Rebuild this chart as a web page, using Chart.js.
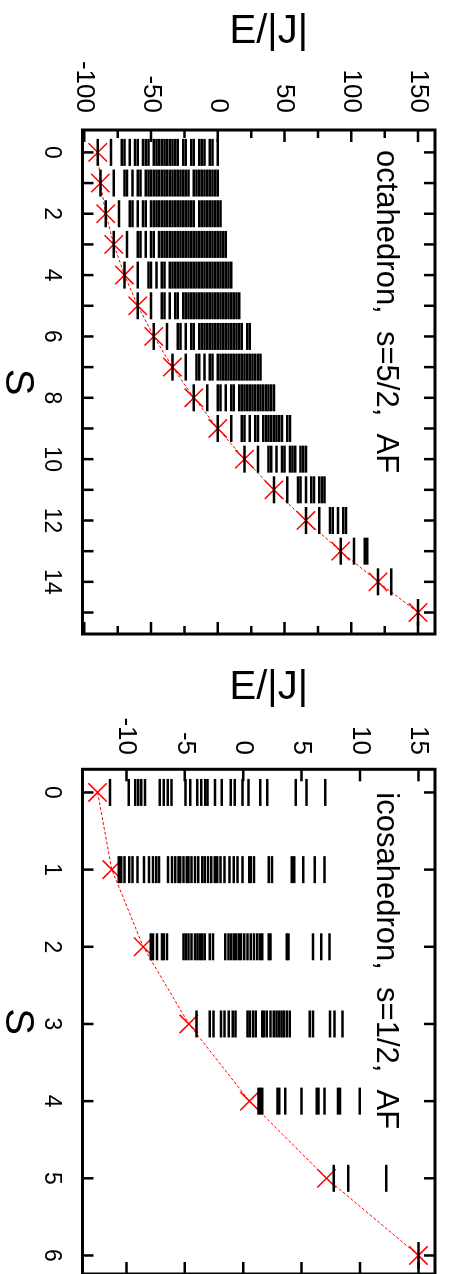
<!DOCTYPE html>
<html>
<head>
<meta charset="utf-8">
<script src="https://cdn.jsdelivr.net/npm/chart.js@4"></script>
<style>
  html, body { margin: 0; padding: 0; background: #fff; overflow: hidden; }
  #page { position: absolute; left: 0; top: 0; width: 1290px; height: 451px;
          transform-origin: 0 0; transform: translateX(451px) rotate(90deg); }
  #octa { position: absolute; left: 0; top: 0; }
  #ico { position: absolute; left: 650px; top: 0; }
</style>
</head>
<body>
<div id="page">
  <canvas id="octa" width="650" height="451"></canvas>
  <canvas id="ico" width="640" height="451"></canvas>
</div>
<script>
// octahedron, s=5/2 : total spin S and the levels E/|J| for each S
const octaSpins = [0, 1, 2, 3, 4, 5, 6, 7, 8, 9, 10, 11, 12, 13, 14, 15];
const octaLevels = [
  [0, -4, -6, -10, -12, -14, -18, -20, -24, -26, -30, -32, -34, -36, -38, -40, -42, -44, -46, -48, -52, -54, -56, -60, -62, -66, -70, -72, -80, -90],
  [0, -2, -4, -6, -8, -10, -12, -14, -16, -18, -22, -24, -26, -28, -30, -32, -34, -36, -38, -40, -42, -44, -46, -48, -50, -52, -54, -58, -60, -64, -68, -70, -78, -88],
  [2, 0, -2, -4, -6, -8, -10, -12, -14, -18, -20, -22, -24, -26, -28, -30, -32, -34, -36, -38, -40, -42, -44, -46, -48, -50, -54, -56, -60, -64, -66, -74, -84],
  [6, 4, 2, 0, -2, -4, -6, -8, -10, -12, -14, -16, -18, -20, -22, -24, -26, -28, -30, -32, -34, -36, -38, -40, -42, -44, -48, -50, -54, -58, -60, -68, -78],
  [10, 8, 6, 4, 2, 0, -2, -4, -6, -8, -10, -12, -14, -16, -18, -20, -22, -24, -26, -28, -30, -32, -34, -36, -40, -42, -46, -50, -52, -60, -70],
  [16, 14, 12, 10, 8, 6, 4, 2, 0, -2, -4, -6, -8, -10, -12, -14, -16, -18, -20, -22, -24, -26, -30, -32, -36, -40, -42, -50, -60],
  [24, 22, 18, 16, 14, 12, 10, 8, 6, 4, 2, 0, -2, -4, -6, -8, -10, -12, -14, -18, -20, -24, -28, -30, -38, -48],
  [32, 30, 28, 26, 24, 22, 20, 18, 16, 14, 12, 10, 8, 6, 4, 2, 0, -4, -6, -10, -14, -16, -24, -34],
  [42, 40, 38, 36, 34, 32, 30, 28, 26, 24, 22, 20, 18, 16, 12, 10, 6, 2, 0, -8, -18],
  [54, 52, 48, 46, 44, 42, 40, 38, 36, 34, 30, 28, 24, 20, 18, 10, 0],
  [66, 64, 62, 58, 56, 54, 50, 48, 44, 40, 38, 30, 20],
  [80, 78, 76, 72, 70, 66, 62, 60, 52, 42],
  [96, 94, 90, 86, 84, 76, 66],
  [112, 110, 102, 92],
  [130, 120],
  [150]
];
const octaBand = [-90, -88, -84, -78, -70, -60, -48, -34, -18, 0, 20, 42, 66, 92, 120, 150];

// icosahedron, s=1/2
const icoSpins = [0, 1, 2, 3, 4, 5, 6];
const icoLevels = [
  [-11.40, -9.81, -9.25, -8.99, -8.74, -8.40, -7.14, -6.80, -6.47, -6.13, -4.95, -4.53, -3.94, -3.60, -3.26, -3.05, -2.42, -1.83, -1.07, -0.73, -0.06, 0.45, 1.46, 2.05, 4.49, 5.42, 7.02],
  [-10.65, -10.45, -10.17, -9.75, -9.47, -9.05, -8.49, -8.07, -7.73, -7.45, -7.22, -6.44, -6.10, -5.82, -5.54, -5.39, -5.12, -4.84, -4.69, -4.42, -4.13, -3.85, -3.51, -3.29, -3.01, -2.73, -2.44, -2.23, -1.94, -1.60, -1.18, -0.82, -0.48, -0.06, 0.51, 0.64, 0.93, 2.19, 2.47, 4.16, 4.38, 5.14, 6.12, 6.96],
  [-7.92, -7.73, -7.39, -6.95, -6.80, -6.52, -5.12, -4.92, -4.69, -4.42, -4.13, -3.91, -3.71, -3.51, -3.29, -2.87, -2.59, -1.53, -1.26, -1.05, -0.82, -0.59, -0.37, -0.20, 0.08, 0.36, 0.64, 0.93, 1.21, 1.43, 1.63, 2.19, 2.33, 3.73, 3.88, 5.98, 6.68, 7.38],
  [-4.00, -2.87, -2.55, -1.91, -1.60, -1.24, -0.90, -0.65, 0.36, 0.57, 0.83, 1.08, 1.63, 1.77, 2.01, 2.33, 2.61, 2.85, 3.06, 3.27, 3.48, 3.73, 3.99, 5.70, 5.97, 7.44, 7.82, 8.51],
  [1.31, 1.46, 1.63, 2.93, 3.08, 3.59, 5.00, 6.29, 6.45, 6.96, 8.12, 8.29, 9.97],
  [7.76, 9.00, 12.24],
  [15]
];
const icoBand = [-12.47, -11.25, -8.56, -4.66, 0.53, 7.13, 15];

Chart.defaults.font.family = '"Liberation Sans", Arial, sans-serif';
Chart.defaults.color = '#000';

// box with inward ticks on all four sides, plus the panel caption
const frame = {
  id: 'frame',
  afterDatasetsDraw(chart, args, opts) {
    const {ctx, chartArea: a, scales} = chart;
    ctx.save();
    ctx.strokeStyle = '#000';
    ctx.lineWidth = 2.5;
    ctx.beginPath();
    scales.x.ticks.forEach(t => {
      const px = scales.x.getPixelForValue(t.value);
      ctx.moveTo(px, a.bottom); ctx.lineTo(px, a.bottom - 11);
      ctx.moveTo(px, a.top); ctx.lineTo(px, a.top + 11);
    });
    scales.y.ticks.forEach(t => {
      const py = scales.y.getPixelForValue(t.value);
      const len = t.value % opts.yMajor === 0 ? 12 : 8;
      ctx.moveTo(a.left, py); ctx.lineTo(a.left + len, py);
      ctx.moveTo(a.right, py); ctx.lineTo(a.right - len, py);
    });
    ctx.stroke();
    ctx.lineWidth = 3;
    ctx.strokeRect(a.left, a.top, a.right - a.left, a.bottom - a.top);
    ctx.fillStyle = '#000';
    ctx.font = '31px "Liberation Sans", Arial, sans-serif';
    ctx.textBaseline = 'alphabetic';
    ctx.fillText(opts.label, a.left + opts.dx, a.top + 57.5);
    ctx.restore();
  }
};

function noPad(s) {
  s.paddingTop = 0;
  s.paddingBottom = 0;
  s.paddingLeft = 0;
  s.paddingRight = 0;
}

function makeChart(id, spins, levels, band, o) {
  const points = [];
  spins.forEach((s, i) => levels[i].forEach(e => points.push({x: s, y: e})));
  return new Chart(document.getElementById(id), {
    type: 'scatter',
    data: {
      datasets: [
        {
          data: points,
          pointStyle: 'line',
          pointRadius: 13.5,
          borderColor: '#000',
          pointBorderWidth: 2.5,
          order: 0
        },
        {
          data: spins.map((s, i) => ({x: s, y: band[i]})),
          showLine: true,
          borderColor: '#ff0000',
          borderWidth: 1,
          borderDash: [3, 2],
          pointStyle: 'crossRot',
          pointRadius: 13,
          pointBorderWidth: 1.5,
          pointBorderColor: '#ff0000',
          order: 1
        }
      ]
    },
    options: {
      responsive: false,
      animation: false,
      events: [],
      layout: {padding: {top: 10.5, right: o.padRight, left: 0, bottom: 0}},
      plugins: {
        legend: {display: false},
        tooltip: {enabled: false},
        frame: {label: o.label, dx: o.labelDx, yMajor: o.yMajor}
      },
      scales: {
        x: {
          type: 'linear',
          min: o.xMin,
          max: o.xMax,
          grid: {display: false, drawTicks: false},
          border: {display: false},
          ticks: {
            stepSize: 1, includeBounds: false, autoSkip: false, maxRotation: 0,
            padding: 17, font: {size: 23},
            callback: v => (v % o.xLabelStep === 0 ? v : '')
          },
          title: {display: true, text: 'S', font: {size: 40, lineHeight: 0.85}, padding: 0},
          afterFit: s => { s.height = 82.5; noPad(s); }
        },
        y: {
          type: 'linear',
          min: o.yMin,
          max: o.yMax,
          grid: {display: false, drawTicks: false},
          border: {display: false},
          ticks: {
            stepSize: o.yStep, includeBounds: false, autoSkip: false,
            padding: o.yPad, font: {size: 26},
            callback: v => (v % o.yMajor === 0 ? v : '')
          },
          title: {display: true, text: '\u2002E/|J|', font: {size: 40}, padding: {top: o.titlePad, bottom: 0}},
          afterFit: s => { s.width = o.yWidth; noPad(s); }
        }
      }
    },
    plugins: [frame]
  });
}

makeChart('octa', octaSpins, octaLevels, octaBand, {
  xMin: -0.73, xMax: 15.7, xLabelStep: 2,
  yMin: -101.4, yMax: 162.7, yStep: 25, yMajor: 50,
  yWidth: 130, yPad: 17, titlePad: 7.7, padRight: 10,
  label: 'octahedron,  s=5/2,  AF', labelDx: 20
});

makeChart('ico', icoSpins, icoLevels, icoBand, {
  xMin: -0.30, xMax: 6.24, xLabelStep: 1,
  yMin: -13.76, yMax: 16.42, yStep: 5, yMajor: 5,
  yWidth: 119.3, yPad: 14.3, titlePad: 13.5, padRight: 13,
  label: 'icosahedron,  s=1/2,  AF', labelDx: 23
});
</script>
</body>
</html>
